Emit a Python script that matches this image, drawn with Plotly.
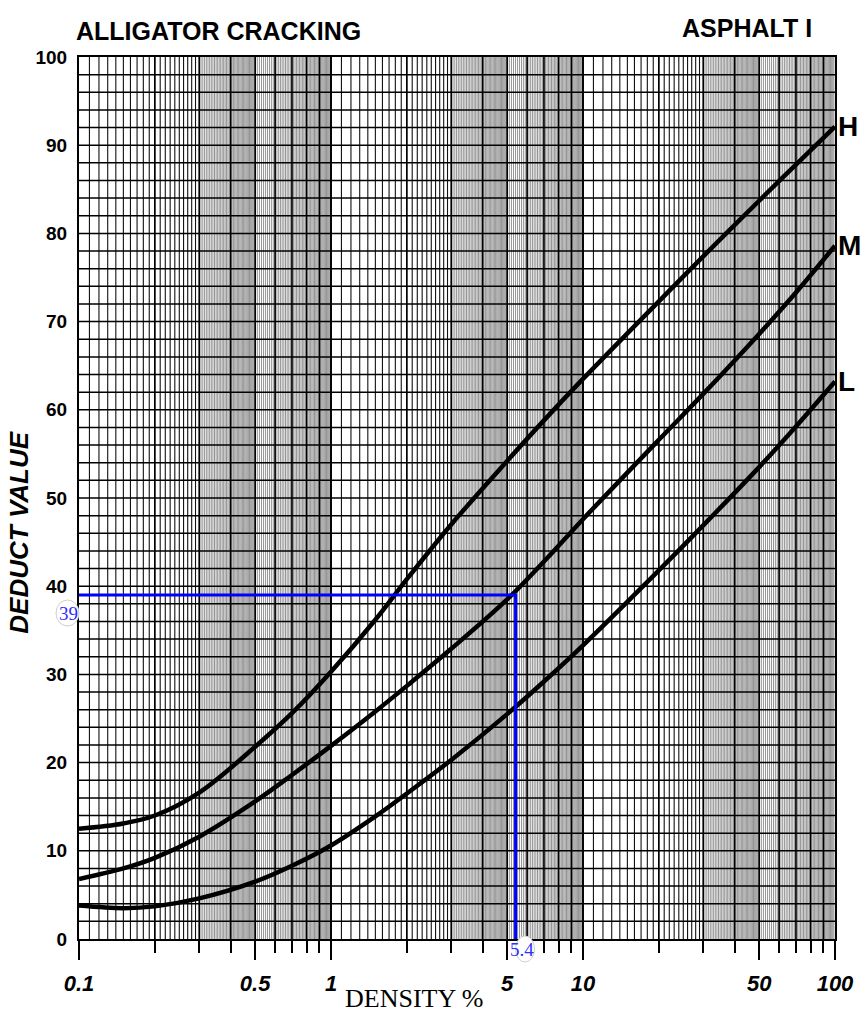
import numpy as np
import plotly.graph_objects as go

# Deduct value curves for alligator cracking (asphalt), by severity level
density = [0.1, 0.15, 0.2, 0.3, 0.5, 0.7, 1, 1.5, 2, 3, 5, 7, 10, 20, 30, 50, 70, 100]
deduct_h = [12.5, 13.1, 14.0, 16.6, 21.8, 25.6, 30.3, 36.2, 40.8, 47.0, 54.2, 58.8, 63.5, 72.3, 77.4, 83.7, 87.8, 92.1]
deduct_m = [6.8, 8.0, 9.2, 11.6, 15.6, 18.6, 21.9, 25.8, 28.7, 32.9, 38.5, 42.8, 47.6, 56.6, 61.8, 68.6, 73.3, 78.6]
deduct_l = [3.8, 3.5, 3.7, 4.6, 6.5, 8.3, 10.6, 13.9, 16.5, 20.3, 25.5, 29.2, 33.3, 41.8, 46.9, 53.5, 58.1, 63.2]
severity = ["H", "M", "L"]

# Worked example
sample_density = 5.4
sample_deduct = 39

x_ticks = [0.1, 0.5, 1, 5, 10, 50, 100]
x_ticktext = ["0.1", "0.5", "1", "5", "10", "50", "100"]
x_minor_ticks = [m * d for d in (0.1, 1, 10) for m in (2, 3, 4, 6, 7, 8, 9)]
y_ticks = list(range(0, 101, 10))

X_MIN, X_MAX, Y_MIN, Y_MAX = 0.1, 100, 0, 100


def vertical_segments(values):
    xs, ys = [], []
    for v in values:
        xs += [v, v, None]
        ys += [Y_MIN, Y_MAX, None]
    return xs, ys


def horizontal_segments(values):
    xs, ys = [], []
    for v in values:
        xs += [X_MIN, X_MAX, None]
        ys += [v, v, None]
    return xs, ys


# Semi-log graph paper rulings
decades = [0.1, 1, 10]
major_v, light_v, dense_v = [], [], []
for d in decades:
    for m in range(1, 11):
        if (d == 0.1 and m == 1) or (d == 10 and m == 10):
            continue
        major_v.append(m * d)
    for m in np.arange(1.1, 3.0, 0.1):
        if abs(m - round(m)) > 1e-6:
            light_v.append(round(m, 2) * d)
    for m in np.arange(3.05, 5.0, 0.05):
        if abs(m - round(m)) > 1e-6:
            dense_v.append(round(m, 2) * d)
    for m in np.arange(5.1, 10.0, 0.1):
        if abs(m - round(m)) > 1e-6:
            dense_v.append(round(m, 2) * d)

fig = go.Figure()

grid_styles = [
    (dense_v, "#3a3a3a", 0.55),
    (light_v, "#111111", 1.1),
    (major_v, "#000000", 1.7),
]
for vals, color, width in grid_styles:
    gx, gy = vertical_segments(vals)
    fig.add_trace(go.Scatter(x=gx, y=gy, mode="lines", line=dict(color=color, width=width),
                             hoverinfo="skip", showlegend=False))

hx, hy = horizontal_segments(list(range(2, 100, 2)))
fig.add_trace(go.Scatter(x=hx, y=hy, mode="lines", line=dict(color="#000000", width=1.5),
                         hoverinfo="skip", showlegend=False))

# Severity curves
for name, values in zip(severity, [deduct_h, deduct_m, deduct_l]):
    fig.add_trace(go.Scatter(x=density, y=values, mode="lines", name=name,
                             line=dict(color="black", width=4.5, shape="spline", smoothing=1.0),
                             showlegend=False))

# Example lookup lines
fig.add_trace(go.Scatter(x=[X_MIN, sample_density, sample_density],
                         y=[sample_deduct, sample_deduct, Y_MIN],
                         mode="lines", line=dict(color="#0000ff", width=3),
                         showlegend=False, cliponaxis=False))

fig.update_layout(
    width=866, height=1016,
    margin=dict(l=79, r=27, t=57, b=77),
    paper_bgcolor="white", plot_bgcolor="white",
    xaxis=dict(type="log", range=[np.log10(X_MIN), np.log10(X_MAX)],
               tickvals=x_ticks, ticktext=x_ticktext,
               tickfont=dict(family="Liberation Sans", size=22, color="black", weight="bold", style="italic"),
               ticks="outside", ticklen=19, tickwidth=2, tickcolor="black",
               ticklabelstandoff=5,
               minor=dict(tickvals=x_minor_ticks, ticks="outside", ticklen=12,
                          tickwidth=2, tickcolor="black", showgrid=False),
               showgrid=False, zeroline=False,
               showline=True, linecolor="black", linewidth=2, mirror=True),
    yaxis=dict(range=[Y_MIN, Y_MAX], tickvals=y_ticks,
               tickfont=dict(family="Liberation Sans", size=19, color="black", weight="bold"),
               ticks="", ticklabelstandoff=6,
               showgrid=False, zeroline=False,
               showline=True, linecolor="black", linewidth=2, mirror=True),
)

title_font = dict(family="Liberation Sans", size=25, color="black", weight="bold")
annotations = [
    dict(text="ALLIGATOR CRACKING", xref="paper", yref="paper", x=-0.006, y=1.029,
         xanchor="left", yanchor="middle", showarrow=False, font=title_font),
    dict(text="ASPHALT I", xref="paper", yref="paper", x=0.972, y=1.033,
         xanchor="right", yanchor="middle", showarrow=False, font=title_font),
    dict(text="DEDUCT VALUE", xref="paper", yref="paper", x=-0.079, y=0.461,
         xanchor="center", yanchor="middle", textangle=-90, showarrow=False,
         font=dict(family="Liberation Sans", size=26, color="black", weight="bold", style="italic")),
    dict(text="DENSITY %", xref="paper", yref="paper", x=0.443, y=-0.0680,
         xanchor="center", yanchor="middle", showarrow=False,
         font=dict(family="Liberation Serif", size=26, color="black")),
]
for name, values in zip(severity, [deduct_h, deduct_m, deduct_l]):
    annotations.append(dict(text=name, x=np.log10(density[-1]), y=values[-1], xref="x", yref="y",
                            xanchor="left", yanchor="middle", xshift=1, showarrow=False,
                            font=dict(family="Liberation Sans", size=28, color="black", weight="bold")))

# Circled value tags for the worked example
circle_style = dict(type="circle", fillcolor="white", line=dict(color="#cfcfcf", width=1), layer="above")
fig.add_shape(xref="paper", yref="y", xsizemode="pixel", ysizemode="pixel",
              xanchor=0, yanchor=sample_deduct, x0=-23, x1=0, y0=-31, y1=-5, **circle_style)
fig.add_shape(xref="x", yref="paper", xsizemode="pixel", ysizemode="pixel",
              xanchor=sample_density, yanchor=0, x0=-7, x1=19, y0=-23, y1=3, **circle_style)
annotations += [
    dict(text=str(sample_deduct), xref="paper", yref="y", x=0, y=sample_deduct,
         xanchor="center", yanchor="middle", xshift=-11, yshift=-18, showarrow=False,
         font=dict(family="Liberation Serif", size=19, color="#2f2fff")),
    dict(text=str(sample_density), xref="x", yref="paper", x=np.log10(sample_density), y=0,
         xanchor="center", yanchor="middle", xshift=6, yshift=-10, showarrow=False,
         font=dict(family="Liberation Serif", size=19, color="#2f2fff")),
]
fig.update_layout(annotations=annotations)

fig.write_html("out.html")
